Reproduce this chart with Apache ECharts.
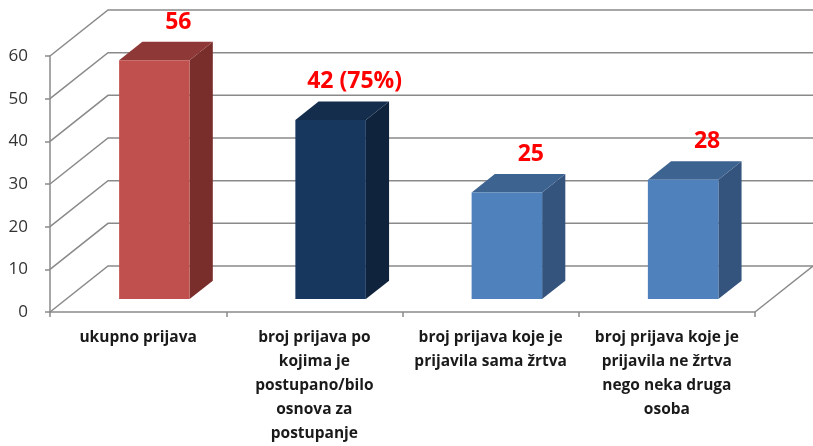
<!DOCTYPE html>
<html>
<head>
<meta charset="utf-8">
<script src="https://cdn.jsdelivr.net/npm/echarts@6/dist/echarts.min.js"></script>
<style>
    html, body { margin: 0; padding: 0; background: #fff; }
    #chart { width: 813px; height: 446px; }
</style>
</head>
<body>
<div id="chart"></div>
<script>
    // podaci
    var categories = [
        'ukupno prijava',
        'broj prijava po\nkojima je\npostupano/bilo\nosnova za\npostupanje',
        'broj prijava koje je\nprijavila sama žrtva',
        'broj prijava koje je\nprijavila ne žrtva\nnego neka druga\nosoba'
    ];
    var values = [56, 42, 25, 28];
    var valueLabels = ['56', '42 (75%)', '25', '28'];
    var yTicks = [0, 10, 20, 30, 40, 50, 60];

    // boje stupaca: prednja, bocna i gornja strana
    var faceColors = ['#C0504D', '#17375E', '#4F81BD', '#4F81BD'];
    var sideColors = ['#7A2E2C', '#10233D', '#34547E', '#34547E'];
    var topColors = ['#8E3937', '#142D4D', '#3D6390', '#3D6390'];

    // dubina "3D" prostora (px)
    var depthX = 58, depthY = -46;
    var barFront = 0.28, barBack = 0.68;
    var lineColor = '#8a8a8a';

    var myChart = echarts.init(document.getElementById('chart'));

    // zidovi i pod
    function renderWall(params, api) {
        var cs = params.coordSys;
        var y = api.coord([0, api.value(1)])[1];
        var children = [{
            type: 'polyline',
            shape: {
                points: [[cs.x, y], [cs.x + depthX, y + depthY], [cs.x + cs.width + depthX + 40, y + depthY]]
            },
            style: { stroke: lineColor, lineWidth: 1.5, fill: null }
        }];
        if (api.value(1) === yTicks[0]) {
            children.push({
                type: 'line',
                shape: { x1: cs.x + cs.width, y1: y, x2: cs.x + cs.width + depthX, y2: y + depthY },
                style: { stroke: lineColor, lineWidth: 1.5 }
            });
        }
        return { type: 'group', children: children };
    }

    // 3D stupci
    function renderBar(params, api) {
        var i = api.value(0);
        var base = api.coord([i, 0]);
        var top = api.coord([i, api.value(1)]);
        var w = api.size([1, 0])[0] * 0.4;
        var fx = depthX * barFront, fy = depthY * barFront;
        var bx = depthX * (barBack - barFront), by = depthY * (barBack - barFront);
        var x0 = base[0] + fx - w / 2, x1 = x0 + w;
        var y0 = base[1] + fy, y1 = top[1] + fy;
        return {
            type: 'group',
            children: [{
                type: 'polygon',
                shape: { points: [[x1, y0], [x1 + bx, y0 + by], [x1 + bx, y1 + by], [x1, y1]] },
                style: { fill: sideColors[i] }
            }, {
                type: 'polygon',
                shape: { points: [[x0, y1], [x1, y1], [x1 + bx, y1 + by], [x0 + bx, y1 + by]] },
                style: { fill: topColors[i] }
            }, {
                type: 'rect',
                shape: { x: x0, y: y1, width: w, height: y0 - y1 },
                style: { fill: faceColors[i] }
            }, {
                type: 'text',
                style: {
                    text: valueLabels[i],
                    x: (x0 + x1) / 2 + 24,
                    y: y1 - 38,
                    align: 'center',
                    verticalAlign: 'middle',
                    fill: '#FF0000',
                    font: 'bold 23px "Open Sans"'
                }
            }]
        };
    }

    myChart.setOption({
        animation: false,
        grid: {
            left: 50,
            right: 58,
            top: 56,
            bottom: 131
        },
        xAxis: {
            type: 'category',
            data: categories,
            axisLine: { lineStyle: { color: lineColor, width: 1.5 } },
            axisTick: { show: true, length: 5, lineStyle: { color: lineColor, width: 1.5 } },
            axisLabel: {
                interval: 0,
                margin: 14,
                color: '#1a1a1a',
                fontFamily: 'Open Sans',
                fontWeight: 'bold',
                fontSize: 15.5,
                lineHeight: 24
            },
            splitLine: { show: false }
        },
        yAxis: {
            type: 'value',
            min: 0,
            max: 60,
            interval: 10,
            axisLine: { show: true, lineStyle: { color: lineColor, width: 1.5 } },
            axisTick: { show: true, length: 5, lineStyle: { color: lineColor, width: 1.5 } },
            axisLabel: {
                margin: 22,
                color: '#333',
                fontFamily: 'Open Sans',
                fontSize: 17
            },
            splitLine: { show: false }
        },
        series: [{
            type: 'custom',
            renderItem: renderWall,
            clip: false,
            silent: true,
            data: yTicks.map(function (v) { return [0, v]; })
        }, {
            type: 'custom',
            renderItem: renderBar,
            clip: false,
            data: values.map(function (v, i) { return [i, v]; })
        }]
    });
</script>
</body>
</html>
